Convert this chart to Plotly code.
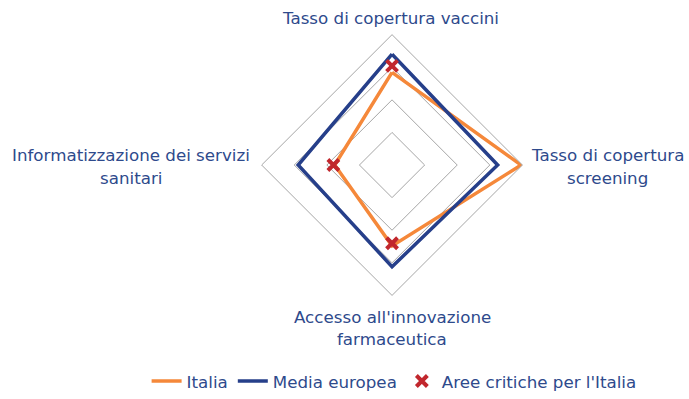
import plotly.graph_objects as go

categories = ["Tasso di copertura vaccini", "Tasso di copertura screening",
              "Accesso all'innovazione farmaceutica", "Informatizzazione dei servizi sanitari"]
italia = [0.71, 0.99, 0.62, 0.44]
media_europea = [0.85, 0.81, 0.78, 0.72]
critiche_cat = ["Tasso di copertura vaccini", "Accesso all'innovazione farmaceutica",
                "Informatizzazione dei servizi sanitari"]
critiche = [0.76, 0.60, 0.45]

INK = "#2E4A8C"
ORANGE = "#F5883A"
BLUE = "#263F8A"
RED = "#C1272D"
GRID = "#A6A6A6"
FS = 16.7


def closed(vals):
    return vals + vals[:1]


fig = go.Figure()
fig.add_trace(go.Scatterpolar(
    r=closed(italia), theta=closed(categories), mode="lines", name="Italia",
    line=dict(color=ORANGE, width=3.5),
))
fig.add_trace(go.Scatterpolar(
    r=closed(media_europea), theta=closed(categories), mode="lines", name="Media europea",
    line=dict(color=BLUE, width=3.5),
))
fig.add_trace(go.Scatterpolar(
    r=critiche, theta=critiche_cat, mode="markers", name="Aree critiche per l'Italia",
    marker=dict(symbol="x-thin", size=11, color=RED, line=dict(color=RED, width=4)),
))

fig.update_layout(
    width=689, height=399,
    margin=dict(l=0, r=0, t=0, b=0),
    paper_bgcolor="white",
    font=dict(family="DejaVu Sans, Verdana, sans-serif", size=FS, color=INK),
    polar=dict(
        domain=dict(x=[0.3778, 0.7602], y=[0.2521, 0.9123]),
        gridshape="linear",
        bgcolor="white",
        radialaxis=dict(range=[0, 1], tickvals=[0.25, 0.5, 0.75, 1.0], showticklabels=False,
                        ticks="", showline=False, gridcolor=GRID, gridwidth=1),
        angularaxis=dict(rotation=90, direction="clockwise", showticklabels=False, ticks="",
                         showgrid=False, showline=True, linecolor=GRID, linewidth=1),
    ),
    legend=dict(orientation="h", x=0.572, xanchor="center", y=1 - 385 / 399, yanchor="middle",
                font=dict(size=FS, color=INK), itemwidth=30, tracegroupgap=0),
    showlegend=True,
)

# axis labels, one annotation per line (pixel positions from the top-left corner)
labels = [
    ("Tasso di copertura vaccini", 391, 18),
    ("Tasso di copertura", 607, 157),
    ("screening", 607, 180),
    ("Accesso all'innovazione", 392, 320),
    ("farmaceutica", 392, 342),
    ("Informatizzazione dei servizi", 131, 157),
    ("sanitari", 131, 180),
]
for text, px_x, px_y in labels:
    fig.add_annotation(text=text, x=px_x / 689, y=1 - px_y / 399, xref="paper", yref="paper",
                       showarrow=False, xanchor="center", yanchor="middle",
                       font=dict(size=FS, color=INK))

fig.write_html("out.html", config={"displayModeBar": False},
               post_script="document.body.style.margin='0';")
